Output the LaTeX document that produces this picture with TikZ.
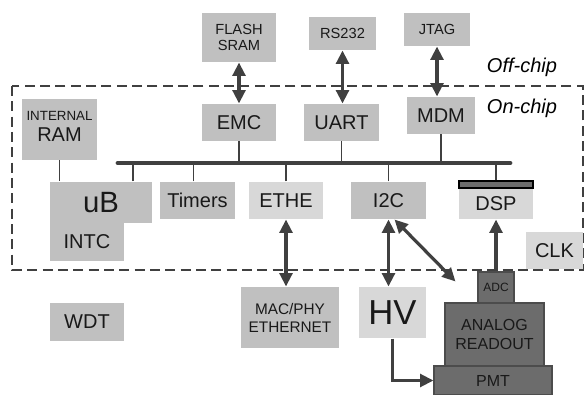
\documentclass[tikz,border=0pt]{standalone}
\usepackage{fontspec}
\setmainfont{Liberation Sans}
\usetikzlibrary{arrows.meta,calc}

\definecolor{midgray}{RGB}{192,192,192}
\definecolor{lightgray}{RGB}{216,216,216}
\definecolor{darkgray}{RGB}{108,108,108}
\definecolor{linegray}{RGB}{64,64,64}

\tikzset{every picture/.style={line width=0.75pt}}
\tikzset{
  blk/.style={fill=midgray, inner sep=0pt, align=center, text=black!90},
  lblk/.style={blk, fill=lightgray},
  dblk/.style={blk, fill=darkgray, draw=black!70, line width=0.8pt},
  sz/.style 2 args={minimum width=#1*0.75pt, minimum height=#2*0.75pt},
  link/.style={draw=linegray, line width=2.4pt, {Triangle[length=10pt,width=9.5pt]}-{Triangle[length=10pt,width=9.5pt]}},
  linkto/.style={draw=linegray, line width=2.4pt, -{Triangle[length=10pt,width=9.5pt]}},
  tap/.style={draw=linegray, line width=0.9pt},
}

\begin{document}
\begin{tikzpicture}[x=0.75pt,y=0.75pt,yscale=-1,xscale=1]
	\useasboundingbox (0,0) rectangle (584,395);

	%On-chip border
	\draw [draw=linegray, line width=1.7pt, dash pattern={on 7.5pt off 4pt}] (12,86) rectangle (583,270);
	\node [anchor=west, font=\fontsize{15}{17}\selectfont\itshape] (offchip) at (482,67) {Off-chip};
	\node [anchor=west, font=\fontsize{15}{17}\selectfont\itshape] (onchip) at (482,108) {On-chip};

	%Off-chip parts
	\node [blk, sz={74}{49}, font=\fontsize{11}{12.5}\selectfont] (flash) at (239,37.5) {FLASH\\SRAM};
	\node [blk, sz={67}{33}, font=\fontsize{11}{12.5}\selectfont] (rs) at (342.5,33.5) {RS232};
	\node [blk, sz={66}{33}, font=\fontsize{11}{12.5}\selectfont] (jtag) at (437,29.5) {JTAG};

	%Peripherals on the bus
	\node [blk, sz={74}{37}, font=\fontsize{15}{17}\selectfont] (emc) at (239,122.5) {EMC};
	\node [blk, sz={75}{37}, font=\fontsize{15}{17}\selectfont] (uart) at (341.5,122.5) {UART};
	\node [blk, sz={68}{37}, font=\fontsize{15}{17}\selectfont] (mdm) at (441,115.5) {MDM};
	\node [blk, sz={75}{61}, font=\fontsize{15}{17}\selectfont] (ram) at (59.5,129.5) {{\fontsize{10}{11}\selectfont INTERNAL}\\[-1pt]RAM\\[-12pt]};
	\node [blk, sz={102}{41}, font=\fontsize{22}{24}\selectfont] (ub) at (101,202.5) {uB};
	\node [blk, sz={74}{38}, font=\fontsize{15}{17}\selectfont] (intc) at (87,242) {INTC};
	\node [blk, sz={75}{37}, font=\fontsize{15}{17}\selectfont] (timers) at (197.5,200.5) {Timers};
	\node [lblk, sz={74}{37}, font=\fontsize{15}{17}\selectfont] (ethe) at (286,200.5) {ETHE};
	\node [blk, sz={75}{37}, font=\fontsize{15}{17}\selectfont] (i2c) at (388.5,200.5) {I2C};
	\node [lblk, sz={74}{31}, font=\fontsize{15}{17}\selectfont] (dsp) at (496,203.5) {DSP};
	\node [blk, fill=darkgray, draw=black, line width=0.8pt, sz={74}{7}] (dspbar) at (496,184.5) {};
	\node [lblk, sz={57}{37}, font=\fontsize{15}{17}\selectfont] (clk) at (554.5,250.5) {CLK};

	%Bus
	\coordinate (busL) at (118,163);
	\coordinate (busR) at (510,163);
	\draw [draw=linegray, line width=3.6pt, line cap=round] (busL) -- (busR);

	%Outside parts
	\node [blk, sz={74}{38}, font=\fontsize{15}{17}\selectfont] (wdt) at (87,322) {WDT};
	\node [blk, sz={98}{61}, font=\fontsize{11.5}{13.5}\selectfont] (mac) at (290,317.5) {MAC/PHY\\ETHERNET};
	\node [lblk, sz={67}{51}, font=\fontsize{26}{28}\selectfont] (hv) at (392.5,312.5) {HV};
	\node [dblk, sz={36}{31}, font=\fontsize{9}{10}\selectfont] (adc) at (496,287.5) {ADC};
	\node [dblk, sz={99}{63}, font=\fontsize{12}{14}\selectfont] (analog) at (494.5,334.5) {ANALOG\\READOUT};
	\node [dblk, sz={118}{29}, font=\fontsize{12}{14}\selectfont] (pmt) at (493,380.5) {PMT};

	%Taps to the bus
	\draw [tap] (ram.south) -- (ub.north -| ram.south);
	\draw [tap] (emc.south) -- (emc.south |- busL);
	\draw [tap] (uart.south) -- (uart.south |- busL);
	\draw [tap] (mdm.south) -- (mdm.south |- busL);
	\draw [tap] ($(ub.north)+(32,0)$) -- ($(ub.north |- busL)+(32,0)$);
	\draw [tap] ($(timers.north)+(-4,0)$) -- ($(timers.north |- busL)+(-4,0)$);
	\draw [tap] (ethe.north) -- (ethe.north |- busL);
	\draw [tap] (i2c.north) -- (i2c.north |- busL);
	\draw [tap] (dspbar.north) -- (dspbar.north |- busL);

	%Links
	\draw [link] (flash.south) -- (flash.south |- emc.north);
	\draw [link] (rs.south) -- (rs.south |- uart.north);
	\draw [link] (jtag.south) -- (jtag.south |- mdm.north);
	\draw [link] (ethe.south) -- (ethe.south |- mac.north);
	\draw [link] (i2c.south) -- (i2c.south |- hv.north);
	\draw [link] ($(i2c.south)+(6,0)$) -- ($(analog.north west)+(11,-21)$);
	\draw [linkto] (adc.north) -- (adc.north |- dsp.south);
	\draw [linkto] (hv.south) |- (pmt.west);
\end{tikzpicture}
\end{document}
